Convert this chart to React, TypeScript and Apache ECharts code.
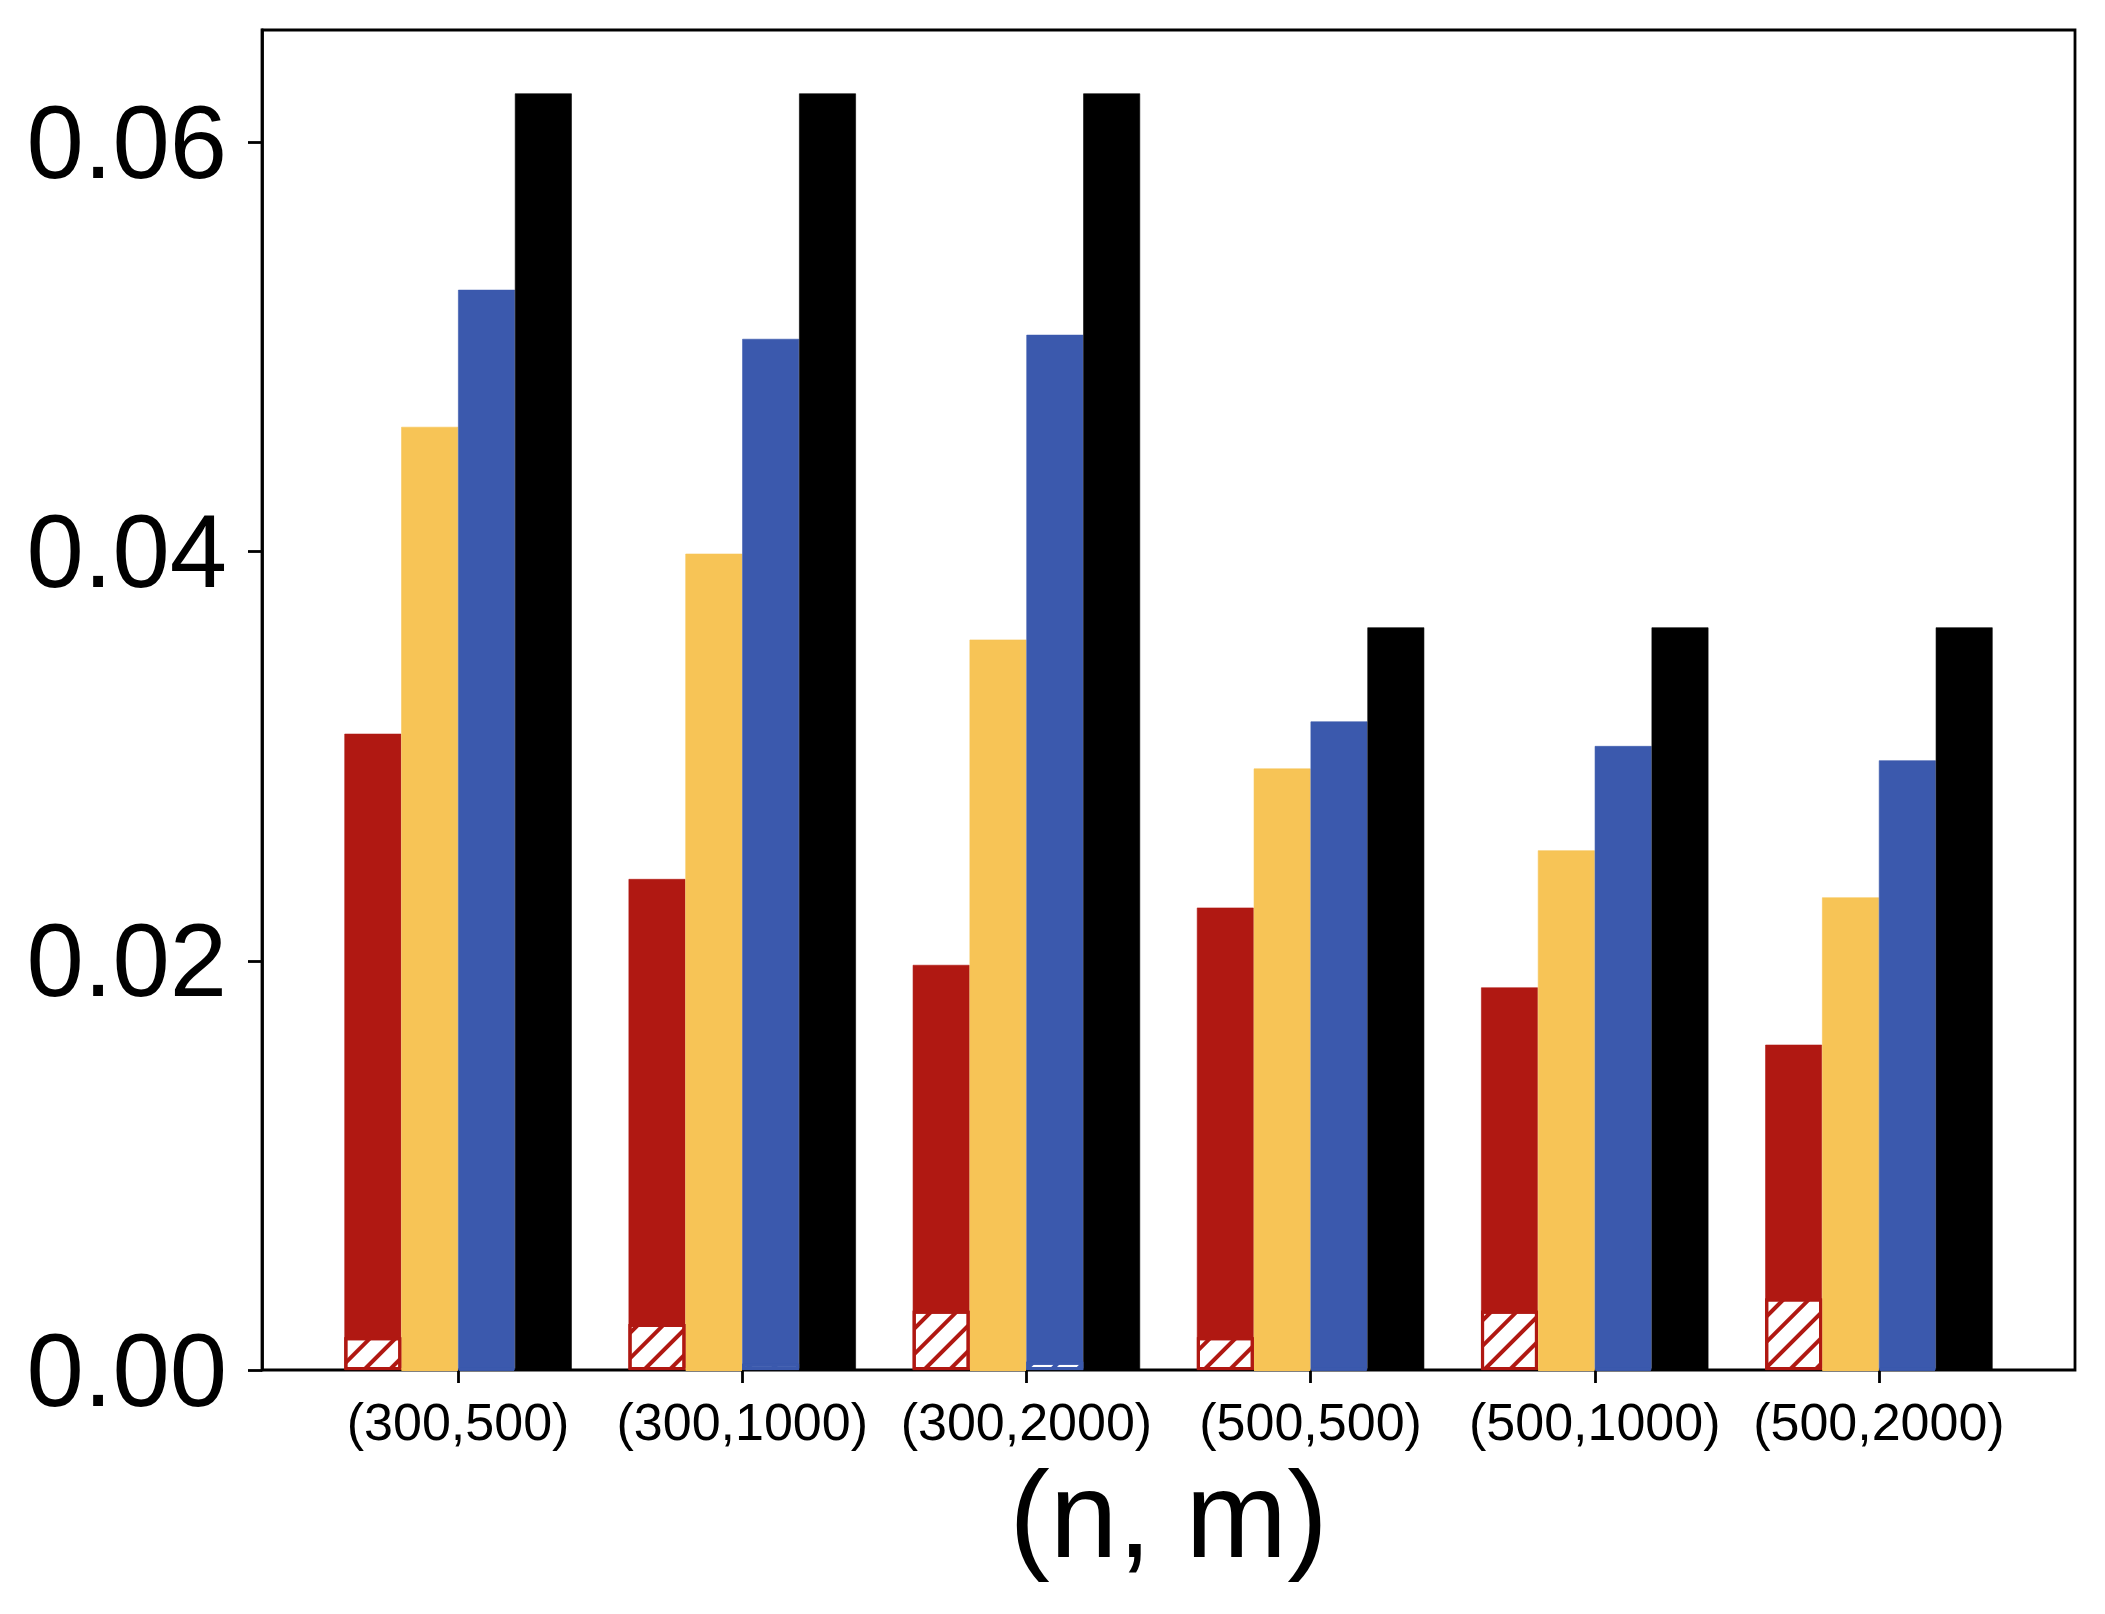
import React, { useEffect, useRef } from "react";
import * as echarts from "echarts";

const categories = ["(300,500)", "(300,1000)", "(300,2000)", "(500,500)", "(500,1000)", "(500,2000)"];
const redValues = [0.0311, 0.0240, 0.0198, 0.0226, 0.0187, 0.0159];
const yellowValues = [0.0461, 0.0399, 0.0357, 0.0294, 0.0254, 0.0231];
const blueValues = [0.0528, 0.0504, 0.0506, 0.0317, 0.0305, 0.0298];
const blackValues = [0.0624, 0.0624, 0.0624, 0.0363, 0.0363, 0.0363];
const redHatch = [0.0016, 0.00225, 0.0029, 0.0016, 0.0029, 0.0035];
const yellowHatch = [0.00004, 0.00004, 0.00004, 0.00004, 0.00004, 0.00004];
const blueHatch = [0.00008, 0.0003, 0.0004, 0.00008, 0.00008, 0.00008];
const yTicks = [0, 0.02, 0.04, 0.06];
const yMax = 0.0655;

const RED = "#B01812";
const YELLOW = "#F7C456";
const BLUE = "#3B59AD";
const BLACK = "#000000";
const FONT = "Liberation Sans, Arial, sans-serif";

export default function App() {
  const ref = useRef<HTMLDivElement>(null);
  useEffect(() => {
    if (!ref.current) return;
    const chart = echarts.init(ref.current, null, { renderer: "svg" });
    const mainBar = (name: string, data: number[], color: string) => ({
      name,
      type: "bar",
      xAxisIndex: 1,
      yAxisIndex: 1,
      data,
      barGap: "0%",
      barCategoryGap: "20%",
      itemStyle: { color, borderColor: color, borderWidth: 0.6 },
    });
    const hatchBar = (name: string, data: (number | string)[], color: string) => ({
      name,
      type: "bar",
      xAxisIndex: 2,
      yAxisIndex: 1,
      data,
      barGap: "0%",
      barCategoryGap: "20%",
      z: 3,
      itemStyle: {
        color: "#ffffff",
        borderColor: color,
        borderWidth: 3,
        decal: {
          symbol: "rect",
          symbolSize: 1,
          color,
          dashArrayX: [1, 0],
          dashArrayY: [3.4, 14],
          rotation: -Math.PI / 4,
        },
      },
    });
    chart.setOption({
      animation: false,
      backgroundColor: "#ffffff",
      textStyle: { fontFamily: FONT },
      grid: [
        { left: 262, right: 30, top: 30, bottom: 244, show: true, borderColor: "#000", borderWidth: 2.8, backgroundColor: "transparent" },
        { left: 316, right: 84, top: 30, bottom: 244 },
      ],
      xAxis: [
        {
          gridIndex: 0,
          type: "value",
          min: 0,
          max: 1,
          axisLine: { show: false },
          axisTick: { show: false },
          axisLabel: { show: false },
          splitLine: { show: false },
          name: "(n, m)",
          nameLocation: "middle",
          nameGap: 84,
          nameTextStyle: { fontSize: 122, color: "#000", fontFamily: FONT },
        },
        {
          gridIndex: 1,
          type: "category",
          data: categories,
          axisLine: { show: false },
          axisTick: { show: true, alignWithLabel: true, length: 13, lineStyle: { color: "#000", width: 2.8 } },
          axisLabel: { fontSize: 52, color: "#000", margin: 26, fontFamily: FONT, interval: 0 },
          splitLine: { show: false },
        },
        {
          gridIndex: 1,
          type: "category",
          data: categories,
          show: false,
        },
      ],
      yAxis: [
        {
          gridIndex: 0,
          type: "value",
          min: 0,
          max: yMax,
          axisLine: { show: true, lineStyle: { color: "#000", width: 2.8 } },
          axisTick: { show: true, length: 14, customValues: yTicks, lineStyle: { color: "#000", width: 2.8 } },
          axisLabel: {
            fontSize: 103,
            color: "#000",
            margin: 35,
            fontFamily: FONT,
            customValues: yTicks,
            formatter: (v: number) => v.toFixed(2),
          },
          splitLine: { show: false },
        },
        {
          gridIndex: 1,
          type: "value",
          min: 0,
          max: yMax,
          show: false,
        },
      ],
      series: [
        mainBar("red", redValues, RED),
        mainBar("yellow", yellowValues, YELLOW),
        mainBar("blue", blueValues, BLUE),
        mainBar("black", blackValues, BLACK),
        hatchBar("redHatch", redHatch, RED),
        hatchBar("yellowHatch", yellowHatch, YELLOW),
        hatchBar("blueHatch", blueHatch, BLUE),
        hatchBar("blackHatch", ["-", "-", "-", "-", "-", "-"], BLACK),
      ],
    });
    return () => chart.dispose();
  }, []);
  return <div ref={ref} style={{ position: "absolute", left: 0, top: 0, width: 2105, height: 1614 }} />;
}
